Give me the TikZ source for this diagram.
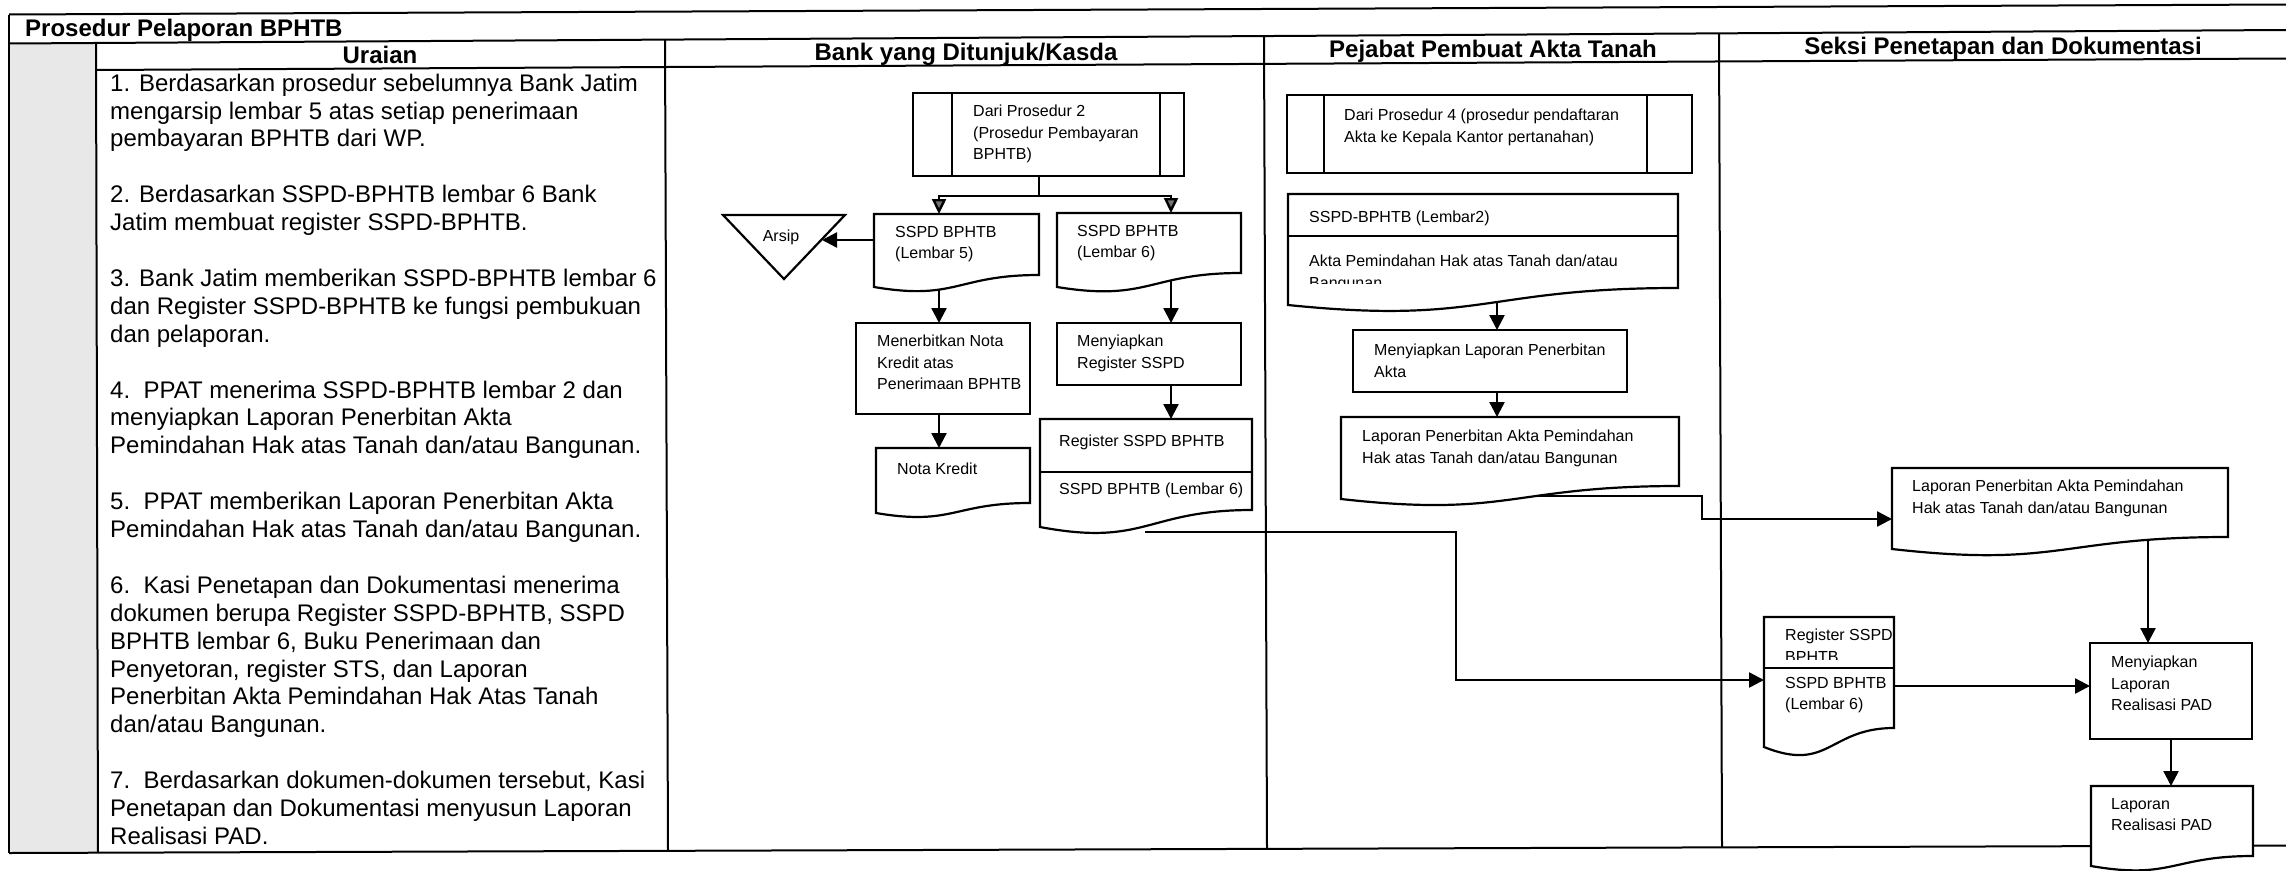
\documentclass[tikz,border=0pt]{standalone}
\usepackage{fontspec}
\setmainfont{Liberation Sans}
\usetikzlibrary{arrows.meta,calc}
\newcommand{\MkNode}[5]{\node[anch, minimum width={(#4)-(#2)}, minimum height={(#5)-(#3)}] (#1) at (#2,#3) {};}
\newcommand{\DocShape}[6]{\draw[shp] (#1,#2) -- (#3,#2) -- (#3,#4) .. controls ({(#1+#3)/2},#4) and ({(#1+#3)/2},{#5+#6}) .. (#1,#5) -- cycle;}
\begin{document}
\begin{tikzpicture}[x=1pt,y=-1pt,
  anch/.style={inner sep=0pt, outer sep=0pt, anchor=north west},
  tbl/.style={line width=2pt},
  ln/.style={line width=2.2pt},
  shp/.style={draw, line width=2.2pt, fill=white, line join=miter},
  arr/.style={line width=2.4pt, -{Triangle[length=15pt,width=15pt]}},
  garr/.style={line width=2.4pt, -{Triangle[length=15pt,width=14pt,fill=black!55]}},
  btext/.style={anchor=north west, inner sep=0pt, align=left, font=\fontsize{16}{21.5}\selectfont, execute at begin node=\rule{0pt}{14pt}},
  utext/.style={anchor=north west, inner sep=0pt, align=left, font=\fontsize{24}{27.9}\selectfont, execute at begin node=\rule{0pt}{20pt}},
  htext/.style={anchor=base, inner sep=0pt, font=\fontsize{24}{28}\selectfont\bfseries},
]
\useasboundingbox (0,0) rectangle (2286,870);
\fill[white] (0,0) rectangle (2286,870);
\fill[black!9] (9,43.5) -- (96,43) -- (98,852) -- (9,853) -- cycle;
% table
\draw[tbl] (9,14.5) -- (2286,4.5);
\draw[tbl] (9,43.5) -- (2286,30);
\draw[tbl] (96,70) -- (2286,58.5);
\draw[tbl] (9,853) -- (2286,845.5);
\draw[tbl] (9,14.5) -- (9,853);
\draw[tbl] (96,43) -- (98,852);
\draw[tbl] (665,40) -- (668,851);
\draw[tbl] (1264,36) -- (1267,849);
\draw[tbl] (1719,33.5) -- (1722,847);
% headers
\node[htext, anchor=base west] (title) at (25,36.6) {Prosedur Pelaporan BPHTB};
\node[htext] (hU) at (380,63.6) {Uraian};
\node[htext] (hB) at (966,60.4) {Bank yang Ditunjuk/Kasda};
\node[htext] (hP) at (1493,57.6) {Pejabat Pembuat Akta Tanah};
\node[htext] (hS) at (2003,54.5) {Seksi Penetapan dan Dokumentasi};
% uraian
\node[utext] (u1) at (110,73.6) {1. Berdasarkan prosedur sebelumnya Bank Jatim\\mengarsip lembar 5 atas setiap penerimaan\\pembayaran BPHTB dari WP.};
\node[utext] (u2) at (110,185.2) {2. Berdasarkan SSPD-BPHTB lembar 6 Bank\\Jatim membuat register SSPD-BPHTB.};
\node[utext] (u3) at (110,268.9) {3. Bank Jatim memberikan SSPD-BPHTB lembar 6\\dan Register SSPD-BPHTB ke fungsi pembukuan\\dan pelaporan.};
\node[utext] (u4) at (110,380.5) {4.\ \ PPAT menerima SSPD-BPHTB lembar 2 dan\\menyiapkan Laporan Penerbitan Akta\\Pemindahan Hak atas Tanah dan/atau Bangunan.};
\node[utext] (u5) at (110,492.1) {5.\ \ PPAT memberikan Laporan Penerbitan Akta\\Pemindahan Hak atas Tanah dan/atau Bangunan.};
\node[utext] (u6) at (110,575.8) {6.\ \ Kasi Penetapan dan Dokumentasi menerima\\dokumen berupa Register SSPD-BPHTB, SSPD\\BPHTB lembar 6, Buku Penerimaan dan\\Penyetoran, register STS, dan Laporan\\Penerbitan Akta Pemindahan Hak Atas Tanah\\dan/atau Bangunan.};
\node[utext] (u7) at (110,771.1) {7.\ \ Berdasarkan dokumen-dokumen tersebut, Kasi\\Penetapan dan Dokumentasi menyusun Laporan\\Realisasi PAD.};
% shape anchors
\MkNode{dari2}{913}{93}{1184}{176}
\MkNode{l5}{874}{214}{1039}{275}
\MkNode{l6}{1057}{213}{1241}{273}
\MkNode{arsip}{723}{215}{845}{279}
\MkNode{men}{856}{323}{1030}{414}
\MkNode{nota}{876}{448}{1030}{503}
\MkNode{menreg}{1057}{323}{1241}{385}
\MkNode{reg}{1040}{419}{1252}{510}
\MkNode{dari4}{1287}{95}{1692}{173}
\MkNode{ppat2}{1288}{194}{1678}{288}
\MkNode{menlap}{1353}{330}{1627}{392}
\MkNode{lap}{1341}{417}{1679}{486}
\MkNode{slap}{1892}{468}{2228}{537}
\MkNode{sreg}{1764}{617}{1894}{728}
\MkNode{menpad}{2090}{643}{2252}{739}
\MkNode{lpad}{2091}{786}{2253}{856}
% connectors
\coordinate (split) at ($(dari2.south west)+(126,20)$);
\draw[ln] ($(dari2.south west)+(126,0)$) -- (split);
\draw[garr] (split) -| ($(l5.north west)+(65,0)$);
\draw[garr] (split) -| ($(l6.north west)+(114,0)$);
\draw[arr] ($(l5.north west)+(0,26)$) -- ($(arsip.north east)+(-23,25)$);
\draw[arr] ($(l5.south west)+(65,0)$) -- ($(men.north west)+(83,0)$);
\draw[arr] ($(men.south west)+(83,0)$) -- ($(nota.north west)+(63,0)$);
\draw[arr] ($(l6.south west)+(114,0)$) -- ($(menreg.north west)+(114,0)$);
\draw[arr] ($(menreg.south west)+(114,0)$) -- ($(reg.north west)+(131,0)$);
\draw[arr] ($(reg.south west)+(105,22)$) -- ++(311,0) |- ($(sreg.north west)+(0,63)$);
\draw[arr] ($(ppat2.south west)+(209,0)$) -- ($(menlap.north west)+(144,0)$);
\draw[arr] ($(menlap.south west)+(144,0)$) -- ($(lap.north west)+(156,0)$);
\draw[arr] ($(lap.south west)+(169,10)$) -- ++(192,0) |- ($(slap.north west)+(0,51)$);
\draw[arr] ($(slap.south west)+(256,0)$) -- ($(menpad.north west)+(58,0)$);
\draw[arr] ($(sreg.north east)+(0,69)$) -- ($(menpad.north west)+(0,43)$);
\draw[arr] ($(menpad.south west)+(81,0)$) -- ($(lpad.north west)+(80,0)$);
% shapes
\draw[shp] (dari2.north west) rectangle (dari2.south east);
\draw[ln] ($(dari2.north west)+(39,0)$) -- ($(dari2.south west)+(39,0)$);
\draw[ln] ($(dari2.north east)+(-24,0)$) -- ($(dari2.south east)+(-24,0)$);
\DocShape{874}{214}{1039}{275}{287}{14}
\DocShape{1057}{213}{1241}{273}{287}{15}
\draw[shp] (arsip.north west) -- (arsip.north east) -- (arsip.south) -- cycle;
\draw[shp] (men.north west) rectangle (men.south east);
\DocShape{876}{448}{1030}{503}{513}{13}
\draw[shp] (menreg.north west) rectangle (menreg.south east);
\DocShape{1040}{419}{1252}{510}{527}{20}
\draw[ln] ($(reg.north west)+(0,53)$) -- ($(reg.north east)+(0,53)$);
\draw[shp] (dari4.north west) rectangle (dari4.south east);
\draw[ln] ($(dari4.north west)+(37,0)$) -- ($(dari4.south west)+(37,0)$);
\draw[ln] ($(dari4.north east)+(-45,0)$) -- ($(dari4.south east)+(-45,0)$);
\DocShape{1288}{194}{1678}{288}{305}{20}
\draw[ln] ($(ppat2.north west)+(0,42)$) -- ($(ppat2.north east)+(0,42)$);
\draw[shp] (menlap.north west) rectangle (menlap.south east);
\DocShape{1341}{417}{1679}{486}{499}{19}
\DocShape{1892}{468}{2228}{537}{549}{19}
\DocShape{1764}{617}{1894}{728}{747}{26}
\draw[ln] ($(sreg.north west)+(0,51)$) -- ($(sreg.north east)+(0,51)$);
\draw[shp] (menpad.north west) rectangle (menpad.south east);
\DocShape{2091}{786}{2253}{856}{866}{14}
% texts
\node[btext] (t_dari2) at (973,105) {Dari Prosedur 2\\(Prosedur Pembayaran\\BPHTB)};
\node[btext] (t_l5) at (895,226) {SSPD BPHTB\\(Lembar 5)};
\node[btext] (t_l6) at (1077,225) {SSPD BPHTB\\(Lembar 6)};
\node[anchor=base, inner sep=0pt, font=\fontsize{16}{21.5}\selectfont] (t_arsip) at (781,241) {Arsip};
\node[btext] (t_men) at (877,335) {Menerbitkan Nota\\Kredit atas\\Penerimaan BPHTB};
\node[btext] (t_nota) at (897,460) {Nota Kredit};
\node[btext] (t_menreg) at (1077,335) {Menyiapkan\\Register SSPD};
\node[btext] (t_rega) at (1059,432) {Register SSPD BPHTB};
\node[btext] (t_regb) at (1059,480) {SSPD BPHTB (Lembar 6)};
\node[btext] (t_dari4) at (1344,109) {Dari Prosedur 4 (prosedur pendaftaran\\Akta ke Kepala Kantor pertanahan)};
\node[btext] (t_ppa) at (1309,208) {SSPD-BPHTB (Lembar2)};
\begin{scope}
\clip (1288,240) rectangle (1678,283);
\node[btext] (t_ppb) at (1309,255) {Akta Pemindahan Hak atas Tanah dan/atau\\Bangunan};
\end{scope}
\node[btext] (t_menlap) at (1374,344) {Menyiapkan Laporan Penerbitan\\Akta};
\node[btext] (t_lap) at (1362,430) {Laporan Penerbitan Akta Pemindahan\\Hak atas Tanah dan/atau Bangunan};
\node[btext] (t_slap) at (1912,480) {Laporan Penerbitan Akta Pemindahan\\Hak atas Tanah dan/atau Bangunan};
\begin{scope}
\clip (1764,619) rectangle (1894,659);
\node[btext] (t_srega) at (1785,629) {Register SSPD\\BPHTB};
\end{scope}
\node[btext] (t_sregb) at (1785,677) {SSPD BPHTB\\(Lembar 6)};
\node[btext] (t_menpad) at (2111,656) {Menyiapkan\\Laporan\\Realisasi PAD};
\node[btext] (t_lpad) at (2111,798) {Laporan\\Realisasi PAD};
\end{tikzpicture}
\end{document}
